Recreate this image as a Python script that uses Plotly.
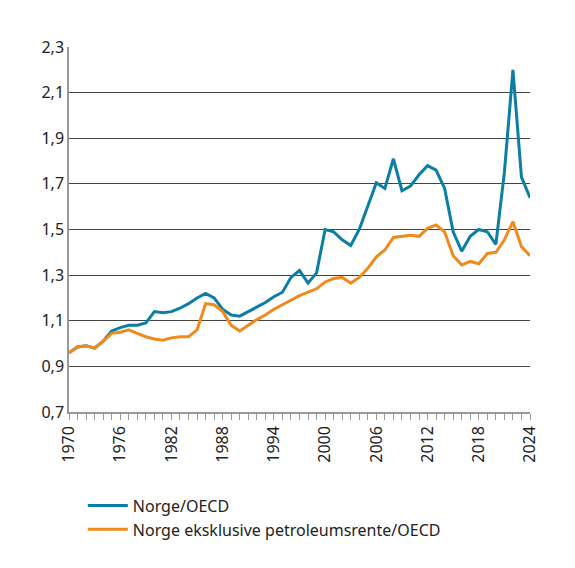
import plotly.graph_objects as go

years = list(range(1970, 2025))
norge = [0.96, 0.985, 0.99, 0.98, 1.01, 1.055, 1.07, 1.08, 1.08, 1.09,
         1.14, 1.135, 1.14, 1.155, 1.175, 1.2, 1.22, 1.2, 1.15, 1.125,
         1.12, 1.14, 1.16, 1.18, 1.205, 1.225, 1.29, 1.32, 1.265, 1.31,
         1.5, 1.49, 1.455, 1.43, 1.5, 1.6, 1.705, 1.68, 1.81, 1.67,
         1.69, 1.74, 1.78, 1.76, 1.68, 1.49, 1.405, 1.47, 1.5, 1.49,
         1.435, 1.75, 2.2, 1.73, 1.64]
eks_petro = [0.96, 0.985, 0.99, 0.98, 1.01, 1.045, 1.05, 1.06, 1.045, 1.03,
             1.02, 1.015, 1.025, 1.03, 1.03, 1.06, 1.175, 1.17, 1.14, 1.08,
             1.055, 1.08, 1.105, 1.125, 1.15, 1.17, 1.19, 1.21, 1.225, 1.24,
             1.27, 1.285, 1.29, 1.265, 1.29, 1.33, 1.38, 1.41, 1.465, 1.47,
             1.475, 1.47, 1.505, 1.52, 1.49, 1.385, 1.345, 1.36, 1.35, 1.395,
             1.4, 1.455, 1.535, 1.425, 1.385]
x_ticks = list(range(1970, 2025, 6))
y_ticks = [0.7, 0.9, 1.1, 1.3, 1.5, 1.7, 1.9, 2.1, 2.3]

fig = go.Figure()
fig.add_trace(go.Scatter(x=years, y=norge, mode='lines', name='Norge/OECD',
                         line=dict(color='#0a7ea4', width=3)))
fig.add_trace(go.Scatter(x=years, y=eks_petro, mode='lines',
                         name='Norge eksklusive petroleumsrente/OECD',
                         line=dict(color='#f18a1d', width=3)))

fig.update_layout(
    width=575, height=568, paper_bgcolor='white', plot_bgcolor='white',
    font=dict(family='Noto Sans', size=16, color='#222'),
    margin=dict(l=61, r=53, t=39, b=164),
    showlegend=True,
    legend=dict(x=0.03, y=-0.21, xanchor='left', yanchor='top',
                font=dict(size=16), tracegroupgap=2, itemwidth=40),
)
fig.update_xaxes(range=[1970, 2024], tickvals=x_ticks, tickangle=-90,
                 showgrid=False, showline=True, linecolor='#999', linewidth=1.5,
                 ticks='outside', ticklen=6, tickcolor='#999',
                 minor=dict(dtick=1, ticks='outside', ticklen=6, tickcolor='#999'))
fig.update_yaxes(range=[0.7, 2.3], tickvals=y_ticks,
                 ticktext=[f"{v:.1f}".replace('.', ',') for v in y_ticks],
                 showgrid=True, gridcolor='#444', gridwidth=1,
                 showline=True, linecolor='#999', linewidth=1.5,
                 zeroline=False, ticklen=0)

fig.write_html("out.html")
